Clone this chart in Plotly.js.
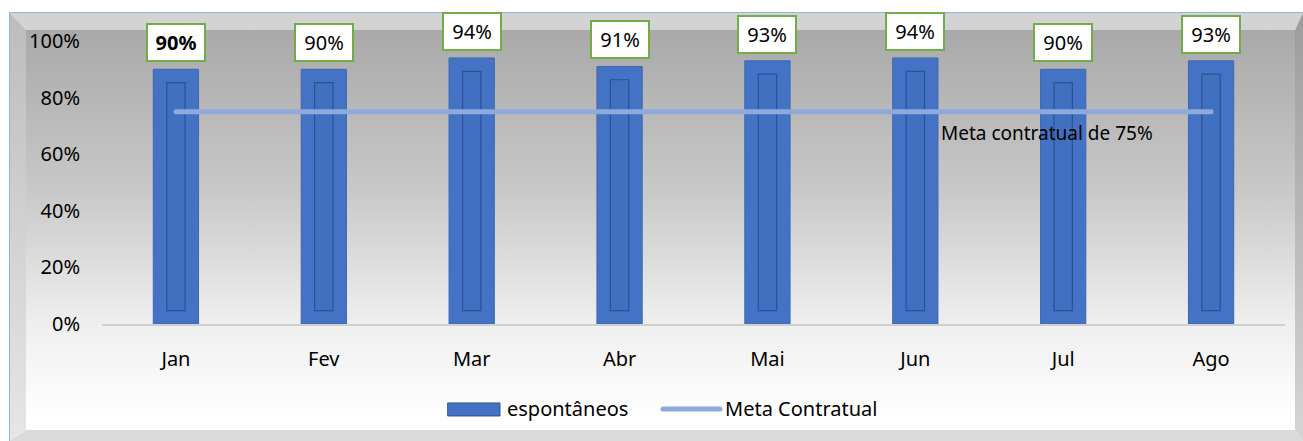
<!DOCTYPE html>
<html>
<head>
<meta charset="utf-8">
<script src="https://cdn.plot.ly/plotly-3.0.1.min.js"></script>
<style>
  html, body { margin: 0; padding: 0; background: #ffffff; }
  #wrap { position: relative; width: 1303px; height: 441px; overflow: hidden; }
  #bg { position: absolute; left: 0; top: 0; }
  #chart { position: absolute; left: 0; top: 0; width: 1303px; height: 441px; }
</style>
</head>
<body>
<div id="wrap">
  <svg id="bg" width="1303" height="441" xmlns="http://www.w3.org/2000/svg">
    <defs>
      <linearGradient id="wall" x1="0" y1="30" x2="0" y2="430" gradientUnits="userSpaceOnUse">
        <stop offset="0" stop-color="#a9a9a9"/>
        <stop offset="0.4" stop-color="#c8c8c8"/>
        <stop offset="0.735" stop-color="#efefef"/>
        <stop offset="0.975" stop-color="#ffffff"/>
        <stop offset="1" stop-color="#ffffff"/>
      </linearGradient>
      <linearGradient id="lbev" x1="0" y1="13" x2="0" y2="441" gradientUnits="userSpaceOnUse">
        <stop offset="0" stop-color="#bcbcbc"/>
        <stop offset="1" stop-color="#e6e6e6"/>
      </linearGradient>
      <linearGradient id="rbev" x1="0" y1="13" x2="0" y2="441" gradientUnits="userSpaceOnUse">
        <stop offset="0" stop-color="#9c9c9c"/>
        <stop offset="1" stop-color="#d6d6d6"/>
      </linearGradient>
    </defs>
    <rect x="26" y="30" width="1269" height="400" fill="url(#wall)"/>
    <polygon points="10,13 1303,13 1295,30 26,30" fill="#d3d3d3"/>
    <polygon points="10,13 26,30 26,430 10,441" fill="url(#lbev)"/>
    <polygon points="1303,13 1295,30 1295,430 1303,441" fill="url(#rbev)"/>
    <polygon points="10,441 26,430 1295,430 1303,441" fill="#dadada"/>
    <line x1="9.5" y1="12" x2="9.5" y2="441" stroke="#8db4e2" stroke-width="1"/>
    <line x1="9" y1="12.5" x2="1303" y2="12.5" stroke="#8db4e2" stroke-width="1"/>
  </svg>
  <div id="chart"></div>
</div>
<script>
// ---- data ----
var months = ["Jan", "Fev", "Mar", "Abr", "Mai", "Jun", "Jul", "Ago"];
var espontaneos = [0.90, 0.90, 0.94, 0.91, 0.93, 0.94, 0.90, 0.93];
var metaContratual = [0.75, 0.75, 0.75, 0.75, 0.75, 0.75, 0.75, 0.75];
var yTicks = [0, 0.2, 0.4, 0.6, 0.8, 1.0];
var metaNote = "Meta contratual de 75%";
var boldLabelIndex = 0;

var FONT = "Noto Sans, Open Sans, sans-serif";
var FS = 20;

// inner bevel panel of each bar, derived from the bar values
var innerBase = 0.047;
var innerLen = espontaneos.map(function (v) { return v - 2 * innerBase; });

var traces = [
  {
    type: "bar", name: "espontâneos", x: months, y: espontaneos, width: 0.306,
    marker: { color: "#4472c4", line: { color: "#3d67b3", width: 1 } },
    hoverinfo: "skip", showlegend: false
  },
  {
    type: "bar", name: "inner", x: months, y: innerLen, base: innerBase, width: 0.124,
    marker: { color: "#4270c0", line: { color: "#2d5191", width: 1.2 } },
    hoverinfo: "skip", showlegend: false
  },
  {
    type: "scatter", mode: "lines", name: "Meta Contratual", x: months, y: metaContratual,
    line: { color: "#8eaadb", width: 5 }, hoverinfo: "skip", showlegend: false
  }
];

var annotations = months.map(function (m, i) {
  var txt = Math.round(espontaneos[i] * 100) + "%";
  return {
    x: m, y: espontaneos[i], xref: "x", yref: "y",
    text: i === boldLabelIndex ? "<b>" + txt + "</b>" : txt,
    showarrow: false, xanchor: "center", yanchor: "bottom", yshift: 7,
    font: { family: FONT, size: FS, color: "#000000" },
    bgcolor: "#ffffff", bordercolor: "#70ad47", borderwidth: 2, borderpad: 6,
    width: 44, height: 23
  };
});

annotations.push({
  x: 5, y: metaContratual[5], xref: "x", yref: "y", text: metaNote,
  showarrow: false, xanchor: "left", yanchor: "middle", xshift: 24, yshift: -21,
  font: { family: FONT, size: 19, color: "#000000" }
});

// custom legend
annotations.push({
  x: 0.3407, y: -0.30, xref: "paper", yref: "paper", text: "espontâneos",
  showarrow: false, xanchor: "left", yanchor: "middle",
  font: { family: FONT, size: FS, color: "#000000" }
});
annotations.push({
  x: 0.5249, y: -0.30, xref: "paper", yref: "paper", text: "Meta Contratual",
  showarrow: false, xanchor: "left", yanchor: "middle",
  font: { family: FONT, size: FS, color: "#000000" }
});

var shapes = [
  { type: "rect", xref: "paper", yref: "paper", x0: 0.2925, x1: 0.3364, y0: -0.325, y1: -0.279,
    fillcolor: "#4472c4", line: { color: "#2f528f", width: 1 } },
  { type: "line", xref: "paper", yref: "paper", x0: 0.4742, x1: 0.5224, y0: -0.3004, y1: -0.3004,
    line: { color: "#8eaadb", width: 5 } }
];

var layout = {
  width: 1303, height: 441,
  margin: { l: 102, r: 18, t: 41, b: 117, pad: 0 },
  paper_bgcolor: "rgba(0,0,0,0)", plot_bgcolor: "rgba(0,0,0,0)",
  barmode: "overlay", showlegend: false,
  font: { family: FONT, size: FS, color: "#000000" },
  xaxis: {
    type: "category", showgrid: false, zeroline: false,
    showline: true, linecolor: "#d0d0d0", linewidth: 2,
    ticks: "", ticklabelstandoff: 16,
    tickfont: { family: FONT, size: FS, color: "#000000" }
  },
  yaxis: {
    range: [0, 1], tickvals: yTicks, tickformat: ".0%",
    showgrid: false, zeroline: false, showline: false, ticks: "",
    ticklabelstandoff: 21,
    tickfont: { family: FONT, size: FS, color: "#000000" }
  },
  annotations: annotations,
  shapes: shapes
};

Plotly.newPlot("chart", traces, layout, { displayModeBar: false, staticPlot: true }).then(function (gd) {
  var paths = gd.querySelectorAll(".scatterlayer path.js-line");
  paths.forEach(function (p) { p.style.strokeLinecap = "round"; });
  var sp = gd.querySelectorAll(".layer-above path, .shapelayer path");
  sp.forEach(function (p) { p.style.strokeLinecap = "round"; });
});
</script>
</body>
</html>
